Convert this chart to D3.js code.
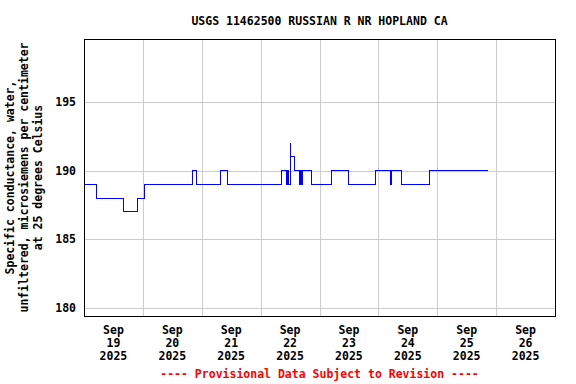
<!DOCTYPE html>
<html>
<head>
<meta charset="utf-8">
<script src="https://cdn.jsdelivr.net/npm/d3@7"></script>
<style>
  body { margin: 0; background: #fff; }
  text { font-family: "DejaVu Sans Mono", monospace; font-weight: bold; font-size: 11.5px; }
</style>
</head>
<body>
<div class="chart"></div>
<script>
// change points of the 15-min record (value holds until the next time)
var times = [
  "2025-09-19 00:00", "2025-09-19 05:00", "2025-09-19 16:00", "2025-09-19 21:45",
  "2025-09-20 00:45", "2025-09-20 20:15", "2025-09-20 22:00", "2025-09-21 07:45",
  "2025-09-21 10:30", "2025-09-22 08:30", "2025-09-22 10:30", "2025-09-22 11:00",
  "2025-09-22 11:30", "2025-09-22 12:00", "2025-09-22 12:15", "2025-09-22 14:00",
  "2025-09-22 15:45", "2025-09-22 16:15", "2025-09-22 16:30", "2025-09-22 17:00",
  "2025-09-22 20:45", "2025-09-23 05:00", "2025-09-23 11:45", "2025-09-23 22:45",
  "2025-09-24 05:00", "2025-09-24 05:30", "2025-09-24 09:15", "2025-09-24 21:00",
  "2025-09-25 20:45"
];
var values = [
  189, 188, 187, 188,
  189, 190, 189, 190,
  189, 190, 189, 190,
  189, 192, 191, 190,
  189, 190, 189, 190,
  189, 190, 189, 190,
  189, 190, 189, 190,
  190
];
var yTicks = [180, 185, 190, 195];
var dayLabels = ["2025-09-19", "2025-09-20", "2025-09-21", "2025-09-22",
                 "2025-09-23", "2025-09-24", "2025-09-25", "2025-09-26"];
var title = "USGS 11462500 RUSSIAN R NR HOPLAND CA";
var yTitle = ["Specific conductance, water,",
              "unfiltered, microsiemens per centimeter",
              "at 25 degrees Celsius"];
var footer = "---- Provisional Data Subject to Revision ----";

var W = 576, H = 384;
var margin = {top: 39, left: 84, right: 21, bottom: 68};
var width = W - margin.left - margin.right,
    height = H - margin.top - margin.bottom;

var parseT = d3.timeParse("%Y-%m-%d %H:%M");
var parseD = d3.timeParse("%Y-%m-%d");
var data = times.map(function (t, i) { return {t: parseT(t), v: values[i]}; });

var svg = d3.select(".chart").append("svg").attr("width", W).attr("height", H);
var g = svg.append("g").attr("transform", "translate(" + margin.left + "," + margin.top + ")");

var x = d3.scaleTime()
  .domain([parseD("2025-09-19"), parseD("2025-09-27")])
  .range([0, width]);
var y = d3.scaleLinear().domain([179.4, 199.6]).range([height, 0]);

// grid
var midnights = d3.timeDay.range(parseD("2025-09-20"), parseD("2025-09-27"));
g.append("g")
  .attr("transform", "translate(0," + height + ")")
  .call(d3.axisBottom(x).tickValues(midnights).tickSize(-height).tickFormat(""))
  .call(function (a) {
    a.select(".domain").remove();
    a.selectAll("line").attr("stroke", "#cccccc").attr("shape-rendering", "crispEdges");
  });
g.append("g")
  .call(d3.axisLeft(y).tickValues(yTicks).tickSize(-width).tickFormat(""))
  .call(function (a) {
    a.select(".domain").remove();
    a.selectAll("line").attr("stroke", "#cccccc").attr("shape-rendering", "crispEdges");
  });

// data line
var line = d3.line()
  .x(function (d) { return x(d.t); })
  .y(function (d) { return y(d.v); })
  .curve(d3.curveStepAfter);
g.append("path")
  .datum(data)
  .attr("fill", "none")
  .attr("stroke", "#0000ff")
  .attr("stroke-width", 1)
  .attr("shape-rendering", "crispEdges")
  .attr("d", line);

// frame
g.append("rect")
  .attr("x", 0).attr("y", 0).attr("width", width).attr("height", height)
  .attr("fill", "none").attr("stroke", "#000").attr("stroke-width", 1)
  .attr("shape-rendering", "crispEdges");

// y tick labels
g.append("g")
  .call(d3.axisLeft(y).tickValues(yTicks).tickSize(0).tickPadding(8))
  .call(function (a) {
    a.select(".domain").remove();
    a.selectAll("text").attr("fill", "#000").style("font-size", "11.5px")
      .style("font-family", "'DejaVu Sans Mono', monospace");
  });

// x tick labels at noon of each day
var fmtM = d3.timeFormat("%b"), fmtD = d3.timeFormat("%d"), fmtY = d3.timeFormat("%Y");
var noons = dayLabels.map(function (d) { return d3.timeHour.offset(parseD(d), 12); });
var xl = g.append("g").attr("transform", "translate(0," + height + ")")
  .selectAll("text").data(noons).enter().append("text")
  .attr("text-anchor", "middle")
  .attr("x", function (d) { return x(d); });
xl.append("tspan").attr("x", function (d) { return x(d); }).attr("y", 18).text(fmtM);
xl.append("tspan").attr("x", function (d) { return x(d); }).attr("y", 31).text(fmtD);
xl.append("tspan").attr("x", function (d) { return x(d); }).attr("y", 44).text(fmtY);

// title
svg.append("text")
  .attr("x", margin.left + width / 2).attr("y", 25)
  .attr("text-anchor", "middle").text(title);

// y axis title
var yt = svg.append("text")
  .attr("transform", "translate(14," + (margin.top + height / 2) + ") rotate(-90)")
  .attr("text-anchor", "middle");
yTitle.forEach(function (s, i) {
  yt.append("tspan").attr("x", 0).attr("y", i * 14).text(s);
});

// footer
svg.append("text")
  .attr("x", margin.left + width / 2).attr("y", 378)
  .attr("text-anchor", "middle").attr("fill", "#ff0000").text(footer);
</script>
</body>
</html>
